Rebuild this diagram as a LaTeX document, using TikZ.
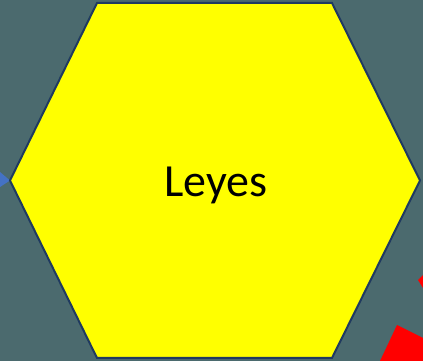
\documentclass[tikz,border=0pt]{standalone}
\usepackage{fontspec}
\setmainfont{Carlito}
\definecolor{slate}{HTML}{4B6A6E}
\definecolor{navy}{HTML}{1F3A60}
\definecolor{hexyellow}{HTML}{FFFF00}
\definecolor{linkblue}{HTML}{4472C4}

\begin{document}
\begin{tikzpicture}[
    x=1pt, y=1pt,
    hexline/.style={draw=navy, line width=2pt, fill=hexyellow, line join=miter},
    label/.style={font=\fontsize{46}{54}\selectfont, inner sep=0pt}
  ]
    \fill[slate] (0,0) rectangle (423,361);
    \useasboundingbox (0,0) rectangle (423,361);

    % neighbouring shapes cut by the frame
    \fill[linkblue] (0,189) -- (10,180.5) -- (0,174) -- cycle;
    \fill[red] (397,36) -- (423,23) -- (423,0) -- (380,0) -- cycle;
    \fill[red] (418,81) -- (423,86) -- (423,73) -- cycle;

    % hexagon
    \coordinate (w)  at (10,180.5);
    \coordinate (nw) at (97,358);
    \coordinate (ne) at (332,358);
    \coordinate (e)  at (420,180.5);
    \coordinate (se) at (332,3);
    \coordinate (sw) at (97,3);
    \draw[hexline] (w) -- (nw) -- (ne) -- (e) -- (se) -- (sw) -- cycle;

    \node[label, anchor=base] (laws) at (216,164) {Leyes};
\end{tikzpicture}
\end{document}
